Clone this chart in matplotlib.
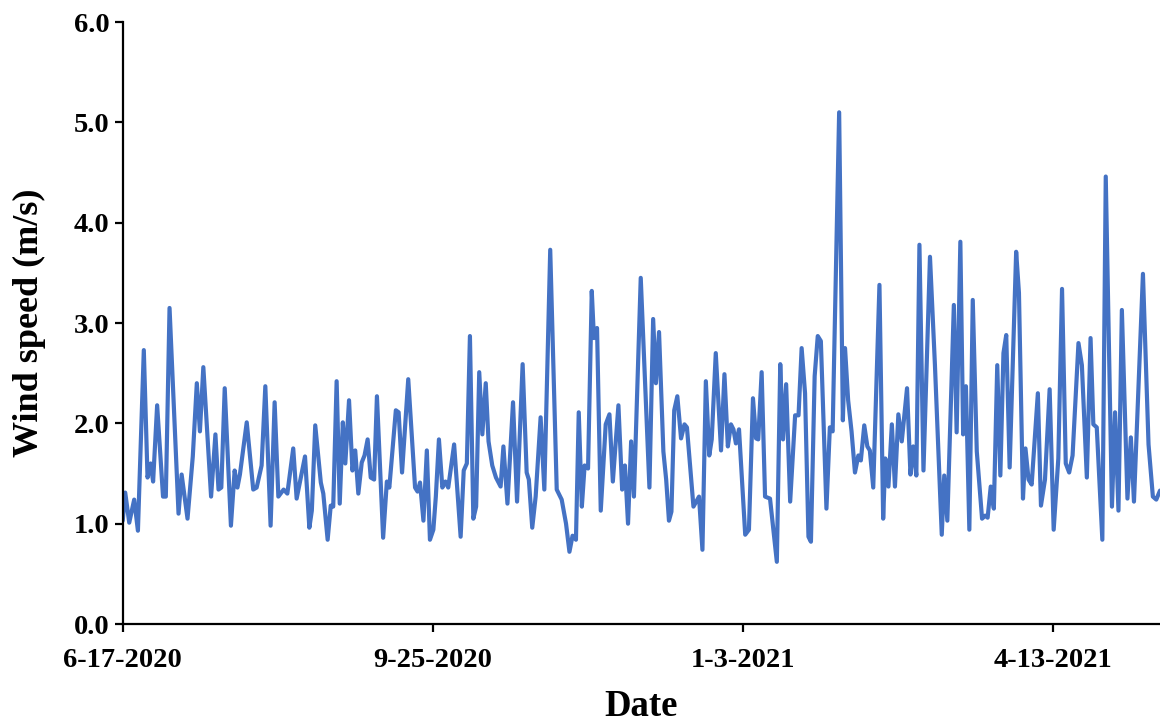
import matplotlib
matplotlib.use("Agg")
import matplotlib.pyplot as plt
from matplotlib.ticker import FormatStrFormatter

# Day offsets from 6-17-2020 and wind speed (m/s)
days = [0, 0.8, 2.1, 3.7, 4.9, 6.8, 8.0, 9.0, 9.8, 11.1, 13.0, 13.9, 15.1, 18.0, 19.0, 20.9, 22.6, 23.9, 24.9, 26.0,
        28.5, 29.9, 30.9, 31.8, 32.9, 34.9, 36.1, 37.0, 37.8, 40.0, 42.1, 43.2, 44.8, 46.0, 47.7, 49.0, 50.2, 51.9, 53.1, 55.0,
        56.1, 57.2, 58.8, 60.2, 61.0, 62.1, 63.9, 64.7, 66.1, 67.1, 67.9, 69.0, 70.0, 71.0, 71.8, 73.0, 74.1, 75.0, 76.0, 77.1,
        78.0, 79.0, 80.0, 81.1, 82.0, 84.0,
        85.2, 86.0, 88.1, 89.0, 90.1, 92.1, 94.3, 95.1, 95.9, 97.0, 98.1, 99.1, 100.2, 101.0, 102.0, 103.1, 104.1, 105.0, 106.9,
        109.0, 110.0, 111.0, 112.0, 113.1,
        114.0, 115.0, 116.0, 117.1, 118.0, 119.2, 120.4, 121.9, 122.8, 124.1, 125.9, 127.2, 129.0, 130.3, 131.0, 132.1, 133.2,
        134.8, 136.0, 137.9, 140.0, 141.6,
        143.0, 144.1, 145.1, 146.2, 147.1, 148.1, 149.0, 150.1, 151.3, 152.0, 153.0, 154.2, 155.8, 157.0, 158.1, 159.9, 161.1,
        162.0, 163.0, 164.0, 164.9, 167.1, 169.9, 171.1,
        172.0, 173.0, 174.4, 175.3, 176.2, 177.0, 177.9, 178.9, 180.1, 181.2, 182.0, 184.1, 185.9, 187.0, 188.1, 189.2, 190.0,
        191.3, 193.0, 194.1, 195.2, 196.2, 197.0, 197.8, 198.8,
        200.8, 202.0, 203.3, 204.3, 205.0, 206.1, 207.2, 208.8, 211.0, 212.1, 213.0, 214.0, 215.3, 216.9, 218.0, 219.0, 220.1,
        221.2, 222.0, 223.2, 224.2, 225.2, 227.0, 228.1, 229.0,
        231.1, 232.3, 233.0, 234.0, 235.1, 236.2, 237.3, 238.1, 239.2, 240.2, 241.0, 242.1, 244.1, 245.3, 246.0, 247.0, 248.1,
        249.1, 250.2, 251.3, 253.0, 254.1, 255.0, 256.0, 257.0, 258.3,
        260.4, 262.0, 264.2, 265.0, 266.0, 268.1, 269.0, 270.2, 271.1, 272.0, 273.1, 274.2, 275.5, 277.2, 278.2, 279.0, 280.0,
        281.0, 282.1, 283.1, 284.1, 285.0, 286.1,
        288.2, 289.1, 290.4, 291.2, 292.2, 293.2, 295.2, 296.2, 297.5, 299.0, 300.3, 301.8, 303.0, 304.2, 305.3, 306.4, 308.3,
        309.4, 311.0, 312.2, 313.1, 314.2, 316.0,
        317.1, 319.1, 320.1, 321.2, 322.3, 324.1, 325.2, 326.2, 329.1, 330.9, 332.3, 333.4, 334.6]

speed = [1.03, 1.31, 1.01, 1.24, 0.93, 2.73, 1.46, 1.60, 1.42, 2.18, 1.27, 1.27, 3.15, 1.10, 1.49, 1.05, 1.67, 2.40, 1.92, 2.56,
         1.27, 1.89, 1.34, 1.36, 2.35, 0.98, 1.53, 1.36, 1.49, 2.01, 1.34, 1.36, 1.58, 2.37, 0.98, 2.21, 1.27, 1.34, 1.30, 1.75,
         1.25, 1.42, 1.67, 0.96, 1.13, 1.98, 1.41, 1.30, 0.84, 1.18, 1.17, 2.42, 1.20, 2.01, 1.60, 2.23, 1.53, 1.73, 1.30, 1.61,
         1.68, 1.84, 1.46, 1.44, 2.27, 0.86,
         1.42, 1.36, 2.13, 2.11, 1.51, 2.44, 1.36, 1.32, 1.41, 1.03, 1.73, 0.84, 0.94, 1.27, 1.84, 1.36, 1.42, 1.36, 1.79,
         0.87, 1.53, 1.60, 2.87, 1.05,
         1.17, 2.51, 1.89, 2.40, 1.82, 1.58, 1.46, 1.37, 1.77, 1.20, 2.21, 1.22, 2.59, 1.51, 1.44, 0.96, 1.27,
         2.06, 1.34, 3.73, 1.34, 1.24,
         1.00, 0.72, 0.88, 0.84, 2.11, 1.17, 1.58, 1.55, 3.32, 2.85, 2.95, 1.13, 1.99, 2.09, 1.42, 2.18, 1.34,
         1.58, 1.00, 1.82, 1.27, 3.45, 1.36, 3.04,
         2.40, 2.91, 1.72, 1.44, 1.03, 1.12, 2.13, 2.27, 1.85, 1.99, 1.96, 1.17, 1.27, 0.74, 2.42, 1.68, 1.84,
         2.70, 1.73, 2.49, 1.77, 1.99, 1.94, 1.80, 1.94,
         0.89, 0.94, 2.25, 1.85, 1.84, 2.51, 1.27, 1.25, 0.62, 2.59, 1.84, 2.39, 1.22, 2.08, 2.08, 2.75, 2.30,
         0.87, 0.82, 2.47, 2.87, 2.82, 1.15, 1.96, 1.92,
         5.10, 2.03, 2.75, 2.23, 1.92, 1.51, 1.68, 1.63, 1.98, 1.77, 1.73, 1.36, 3.38, 1.05, 1.65, 1.37, 1.99,
         1.37, 2.09, 1.82, 2.35, 1.49, 1.77, 1.48, 3.78, 1.53,
         3.66, 2.58, 0.89, 1.48, 1.03, 3.18, 1.91, 3.81, 1.89, 2.37, 0.94, 3.23, 1.72, 1.05, 1.08, 1.06, 1.37,
         1.15, 2.58, 1.48, 2.70, 2.88, 1.56,
         3.71, 3.30, 1.25, 1.75, 1.44, 1.39, 2.30, 1.18, 1.44, 2.34, 0.94, 1.65, 3.34, 1.60, 1.51, 1.68, 2.80,
         2.58, 1.46, 2.85, 1.99, 1.96, 0.84,
         4.46, 1.17, 2.11, 1.13, 3.13, 1.25, 1.86, 1.22, 3.49, 1.79, 1.27, 1.24, 1.33]

tick_days = [0, 100, 200, 300]
tick_labels = ["6-17-2020", "9-25-2020", "1-3-2021", "4-13-2021"]
y_ticks = [0, 1, 2, 3, 4, 5, 6]

plt.rcParams['font.family'] = ['Liberation Serif', 'DejaVu Serif']
plt.rcParams['font.weight'] = 'bold'

fig = plt.figure(figsize=(11.6, 7.24), dpi=100)
ax = fig.add_axes([0.1058, 0.1381, 0.8942, 0.8315])

ax.plot(days, speed, color='#4472C4', linewidth=3.0, solid_joinstyle='round', solid_capstyle='round')

ax.set_xlim(0, 334.6)
ax.set_ylim(0, 6)
ax.set_yticks(y_ticks)
ax.yaxis.set_major_formatter(FormatStrFormatter('%.1f'))
ax.set_xticks(tick_days)
ax.set_xticklabels(tick_labels)

for s in ['top', 'right']:
    ax.spines[s].set_visible(False)
for s in ['left', 'bottom']:
    ax.spines[s].set_linewidth(1.6)
    ax.spines[s].set_color('black')

ax.tick_params(axis='both', direction='out', length=6, width=1.6, labelsize=20.5, colors='black')
ax.tick_params(axis='y', pad=3.5)
ax.tick_params(axis='x', pad=11)
for lab in ax.get_xticklabels() + ax.get_yticklabels():
    lab.set_fontweight('bold')

ax.set_xlabel('Date', fontsize=26.5, fontweight='bold', labelpad=12)
ax.set_ylabel('Wind speed (m/s)', fontsize=26, fontweight='bold', labelpad=20)

fig.savefig('out.png', dpi=100)
